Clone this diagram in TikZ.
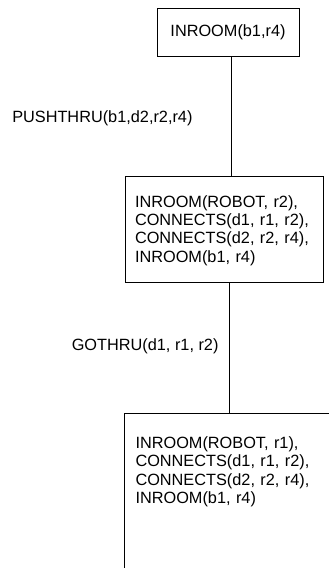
\documentclass[tikz,border=0pt]{standalone}
\usepackage{fontspec}
\setmainfont{Liberation Sans}
\usepackage{tikz}
\usetikzlibrary{positioning}
\tikzset{
  statebox/.style={draw=black, line width=1pt, fill=white, align=left,
    font=\fontsize{16.3}{18.4}\selectfont},
  opname/.style={inner sep=0pt, font=\fontsize{16.3}{18.4}\selectfont},
  link/.style={line width=1pt}
}

\begin{document}
\begin{tikzpicture}
\path[use as bounding box, clip] (0,0) rectangle (329pt,-568pt);

\node[statebox, minimum width=142pt, minimum height=48pt, align=center] (goal) at (228pt,-32pt) {INROOM(b1,r4)};
\node[statebox, text width=178pt, inner xsep=10pt, inner ysep=0pt, text height=31pt, text depth=75pt,
  below=119pt of goal.south west, anchor=north west, xshift=-32pt] (mid)
  {INROOM(ROBOT, r2),\\CONNECTS(d1, r1, r2),\\CONNECTS(d2, r2, r4),\\INROOM(b1, r4)};
\node[statebox, text width=200pt, inner xsep=11pt, inner ysep=0pt, text height=35pt, text depth=150pt,
  anchor=north west] (start) at (124pt,-413pt)
  {INROOM(ROBOT, r1),\\CONNECTS(d1, r1, r2),\\CONNECTS(d2, r2, r4),\\INROOM(b1, r4)};

\draw[link] ([xshift=3pt]goal.south) -- node[opname, pos=0.52, left=38pt] {PUSHTHRU(b1,d2,r2,r4)} ([xshift=3pt]goal.south |- mid.north);
\draw[link] ([xshift=5pt]mid.south) -- node[opname, pos=0.49, left=10pt] {GOTHRU(d1, r1, r2)} ([xshift=5pt]mid.south |- start.north);
\end{tikzpicture}
\end{document}
